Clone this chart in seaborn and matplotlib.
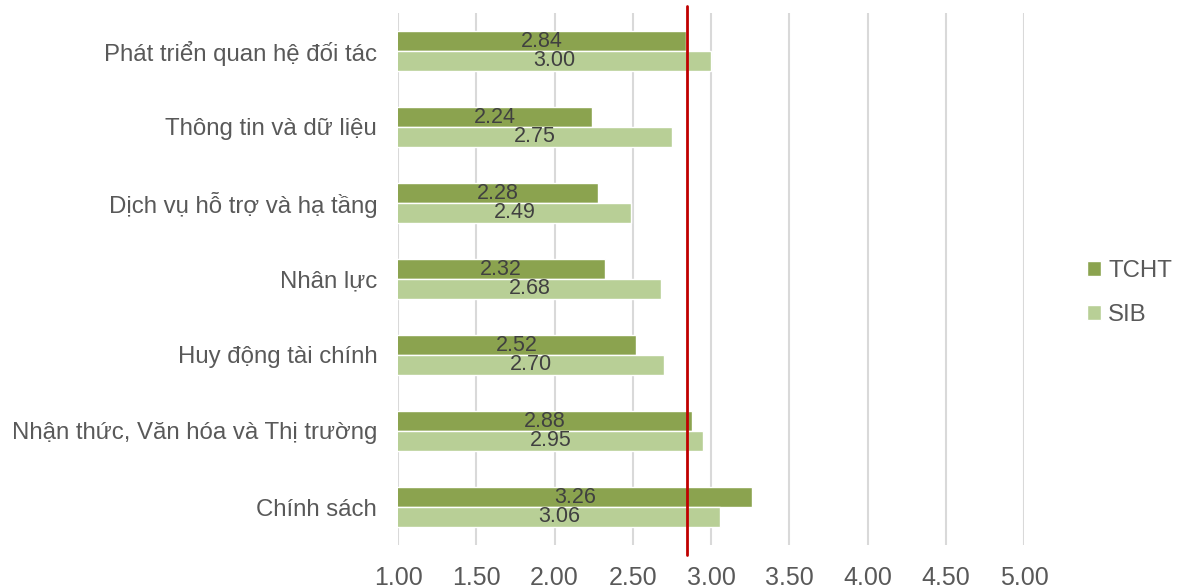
import matplotlib
matplotlib.use("Agg")
import matplotlib.pyplot as plt
import seaborn as sns
import pandas as pd
from matplotlib.patches import Patch

categories = ["Phát triển quan hệ đối tác", "Thông tin và dữ liệu", "Dịch vụ hỗ trợ và hạ tầng",
              "Nhân lực", "Huy động tài chính", "Nhận thức, Văn hóa và Thị trường", "Chính sách"]
tcht = [2.84, 2.24, 2.28, 2.32, 2.52, 2.88, 3.26]
sib = [3.00, 2.75, 2.49, 2.68, 2.70, 2.95, 3.06]
series = ["TCHT", "SIB"]
avg_line = 2.845
xticks = [1.00, 1.50, 2.00, 2.50, 3.00, 3.50, 4.00, 4.50, 5.00]

df = pd.DataFrame({
    "cat": categories * 2,
    "val": tcht + sib,
    "series": ["TCHT"] * len(categories) + ["SIB"] * len(categories),
})

sns.set_theme(style="white")
plt.rcParams["font.family"] = ["Liberation Sans", "DejaVu Sans"]
text_color = "#595959"
colors = {"TCHT": "#8BA34F", "SIB": "#B8CF96"}

fig = plt.figure(figsize=(11.77, 5.88), dpi=100)
ax = fig.add_axes([398 / 1177, 43 / 588, 626 / 1177, 532 / 588])

sns.barplot(data=df, y="cat", x="val", hue="series", hue_order=series, order=categories,
            palette=colors, orient="h", width=0.52, ax=ax, legend=False, saturation=1)

ax.set_xlim(1.0, 5.0)
ax.set_xticks(xticks)
ax.set_xticklabels([f"{t:.2f}" for t in xticks], fontsize=18, color=text_color)
ax.set_ylabel("")
ax.set_xlabel("")
ax.tick_params(axis="y", labelsize=17.3, labelcolor=text_color, length=0, pad=15)
ax.tick_params(axis="x", length=0, pad=15)
for s in ax.spines.values():
    s.set_visible(False)
ax.grid(axis="x", color="#d9d9d9", linewidth=1.5)
ax.set_axisbelow(True)

for cont in ax.containers:
    ax.bar_label(cont, labels=[f"{v:.2f}" for v in cont.datavalues], label_type="center",
                 fontsize=15.5, color="#404040")

ax.axvline(avg_line, ymin=-0.019, ymax=1.013, color="#C00000", linewidth=2, clip_on=False, zorder=5)

handles = [Patch(facecolor=colors[s], label=s) for s in series]
fig.legend(handles=handles, loc="center left", bbox_to_anchor=(1065 / 1177, 1 - 293 / 588),
           frameon=False, fontsize=17.3, handlelength=0.6, handleheight=0.6,
           handletextpad=0.3, labelspacing=0.9, labelcolor=text_color)

fig.savefig("out.png", dpi=100)
